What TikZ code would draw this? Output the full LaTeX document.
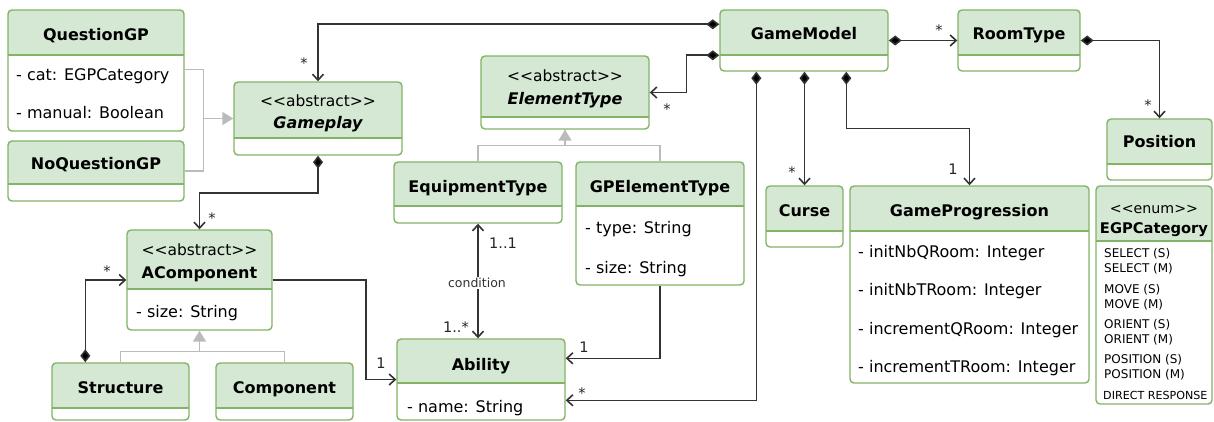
\documentclass[tikz,border=0pt]{standalone}
\usepackage{fontspec}
\setmainfont{DejaVu Sans}
\usetikzlibrary{arrows.meta,calc}
\definecolor{hdr}{HTML}{D5E8D4}
\definecolor{bdr}{HTML}{82B366}
\definecolor{ln}{HTML}{333333}
\definecolor{genc}{HTML}{BBBBBB}
\newcommand\stl{<\kern0pt<}
\newcommand\stg{>\kern0pt>}
\tikzset{
 boxnode/.style={draw=bdr, line width=1.4pt, rounded corners=4pt, inner sep=0pt},
 ttl/.style={anchor=base, inner sep=0pt, font=\fontsize{16}{19}\selectfont\bfseries},
 ttli/.style={anchor=base, inner sep=0pt, font=\fontsize{16}{19}\selectfont\bfseries\itshape},
 ster/.style={anchor=base, inner sep=0pt, font=\fontsize{15.5}{18}\selectfont},
 attr/.style={anchor=base west, inner sep=0pt, font=\fontsize{16}{19}\selectfont},
 lit/.style={anchor=base west, inner sep=0pt, font=\fontsize{12}{14}\selectfont},
 mult/.style={inner sep=0pt, font=\fontsize{14.5}{16}\selectfont, text=black!85},
 assoc/.style={draw=ln, line width=1.6pt, -{Straight Barb[length=6pt,width=11pt]}},
 compo/.style={draw=ln, line width=1.6pt, {Diamond[length=13pt,width=10pt,fill=black]}-{Straight Barb[length=6pt,width=11pt]}},
 bidir/.style={draw=ln, line width=1.6pt, {Straight Barb[length=6pt,width=11pt]}-{Straight Barb[length=6pt,width=11pt]}},
 genl/.style={draw=genc, line width=1.5pt, -{Triangle[length=11pt,width=13pt,fill=genc]}},
 genp/.style={draw=genc, line width=1.5pt},
}
\newcommand\umlclass[6]{%
 \fill[white, rounded corners=4pt] (#2,#3) rectangle (#4,#5);
 \begin{scope}
 \clip[rounded corners=4pt] (#2,#3) rectangle (#4,#5);
 \fill[hdr] (#2,#3) rectangle (#4,#6);
 \end{scope}
 \draw[bdr, line width=1.4pt] (#2,#6) -- (#4,#6);
 \node[boxnode, minimum width={(#4)-(#2)}, minimum height={(#5)-(#3)}] (#1) at ({((#2)+(#4))/2},{((#3)+(#5))/2}) {};
}
\begin{document}
\begin{tikzpicture}[x=1pt,y=-1pt]
\fill[white] (0,0) rectangle (1214,422);
\useasboundingbox (0,0) rectangle (1214,422);

% classes
\umlclass{qgp}{8}{10}{184}{131}{55}
\umlclass{nqgp}{8}{141}{184}{201}{184}
\umlclass{gp}{234}{82}{402}{155}{138}
\umlclass{ac}{127}{230}{272}{330}{289}
\umlclass{st}{52}{363}{189}{420}{408}
\umlclass{cp}{216}{363}{353}{420}{408}
\umlclass{et}{481}{56}{649}{129}{117}
\umlclass{eq}{394}{162}{562}{223}{206}
\umlclass{gpe}{576}{162}{744}{285}{206}
\umlclass{ab}{397}{339}{565}{420}{383}
\umlclass{gm}{720}{10}{888}{71}{55}
\umlclass{rt}{958}{10}{1080}{71}{55}
\umlclass{po}{1107}{119}{1212}{180}{164}
\umlclass{cu}{766}{186}{843}{247}{231}
\umlclass{gpr}{850}{186}{1089}{383}{231}
\umlclass{egp}{1096}{186}{1212}{404}{241}

% texts
\node[ttl] (qgp-n) at (96,41) {QuestionGP};
\node[attr] (qgp-a1) at (16,81) {- cat: EGPCategory};
\node[attr] (qgp-a2) at (16,119) {- manual: Boolean};
\node[ttl] (nqgp-n) at (96,169) {NoQuestionGP};
\node[ster] (gp-s) at (318,107) {\stl abstract\stg};
\node[ttli] (gp-n) at (318,129) {Gameplay};
\node[ster] (ac-s) at (199.5,255) {\stl abstract\stg};
\node[ttl] (ac-n) at (199.5,278) {AComponent};
\node[attr] (ac-a1) at (136,317) {- size: String};
\node[ttl] (st-n) at (120.5,393) {Structure};
\node[ttl] (cp-n) at (284.5,393) {Component};
\node[ster] (et-s) at (565,82) {\stl abstract\stg};
\node[ttli] (et-n) at (565,105) {ElementType};
\node[ttl] (eq-n) at (478,192) {EquipmentType};
\node[ttl] (gpe-n) at (660,192) {GPElementType};
\node[attr] (gpe-a1) at (585,233) {- type: String};
\node[attr] (gpe-a2) at (585,273) {- size: String};
\node[ttl] (ab-n) at (481,370) {Ability};
\node[attr] (ab-a1) at (407,412) {- name: String};
\node[ttl] (gm-n) at (804,40) {GameModel};
\node[ttl] (rt-n) at (1019,40) {RoomType};
\node[ttl] (po-n) at (1159.5,148) {Position};
\node[ttl] (cu-n) at (804.5,216) {Curse};
\node[ttl] (gpr-n) at (969.5,216) {GameProgression};
\node[attr] (gpr-a1) at (858,257) {- initNbQRoom: Integer};
\node[attr] (gpr-a2) at (858,295) {- initNbTRoom: Integer};
\node[attr] (gpr-a3) at (858,334) {- incrementQRoom: Integer};
\node[attr] (gpr-a4) at (858,372) {- incrementTRoom: Integer};
\node[anchor=base, inner sep=0pt, font=\fontsize{14.2}{17}\selectfont] (egp-s) at (1154,213) {\stl enum\stg};
\node[anchor=base, inner sep=0pt, font=\fontsize{14.7}{17}\selectfont\bfseries] (egp-n) at (1154,233) {EGPCategory};
\node[lit] (l1) at (1104,257) {SELECT (S)};
\node[lit] (l2) at (1104,272) {SELECT (M)};
\node[lit] (l3) at (1104,293) {MOVE (S)};
\node[lit] (l4) at (1104,308) {MOVE (M)};
\node[lit] (l5) at (1104,328) {ORIENT (S)};
\node[lit] (l6) at (1104,343) {ORIENT (M)};
\node[lit] (l7) at (1104,363) {POSITION (S)};
\node[lit] (l8) at (1104,378) {POSITION (M)};
\node[lit, font=\fontsize{11.1}{13}\selectfont] (l9) at (1103,399) {DIRECT RESPONSE};

% generalizations
\draw[genp] ($(qgp.north east)+(0,60)$) -- ++(19,0) |- (gp.west);
\draw[genl] (nqgp.east) -- ++(19,0) |- (gp.west);
\draw[genp] (st.north) -- ++(0,-11) -| (ac.south);
\draw[genl] (cp.north) -- ++(0,-11) -| (ac.south);
\draw[genp] (eq.north) -- ++(0,-16) -| (et.south);
\draw[genl] (gpe.north) -- ++(0,-16) -| (et.south);

% associations
\draw[compo] ($(gm.north west)+(0,15)$) -| (gp.north);
\draw[compo] (gp.south) -- ++(0,37) -| (ac.north);
\draw[compo] ($(st.north west)+(34,0)$) |- (ac.west);
\draw[assoc] (ac.east) -- ++(93,0) |- (ab.west);
\draw[compo] ($(gm.north west)+(0,46)$) -- ++(-33,0) |- (et.east);
\draw[compo] ($(gm.south west)+(37,0)$) |- ($(ab.north east)+(0,62)$);
\draw[compo] (cu.north |- gm.south) -- (cu.north);
\draw[compo] ($(gm.south west)+(127,0)$) -- ++(0,57) -| (gpr.north);
\draw[assoc] (gpe.south) |- ($(ab.north east)+(0,20)$);
\draw[bidir] (eq.south) -- (eq.south |- ab.north);
\draw[compo] (gm.east) -- (rt.west);
\draw[compo] (rt.east) -| (po.north);

% labels
\node[mult] (m1) at (304,63) {*};
\node[mult] (m2) at (212,218) {*};
\node[mult] (m3) at (107,271) {*};
\node[mult] (m4) at (381,363) {1};
\node[mult] (m5) at (667,109) {*};
\node[mult] (m6) at (503,243) {1..1};
\node[fill=white, inner sep=1pt, font=\fontsize{12.5}{15}\selectfont, text=ln] (cond) at (477,283) {condition};
\node[mult] (m7) at (456,327) {1..*};
\node[mult] (m8) at (584,347) {1};
\node[mult] (m9) at (582,393) {*};
\node[mult] (m10) at (939,30) {*};
\node[mult] (m11) at (792,172) {*};
\node[mult] (m12) at (953,169) {1};
\node[mult] (m13) at (1148,105) {*};
\end{tikzpicture}
\end{document}
